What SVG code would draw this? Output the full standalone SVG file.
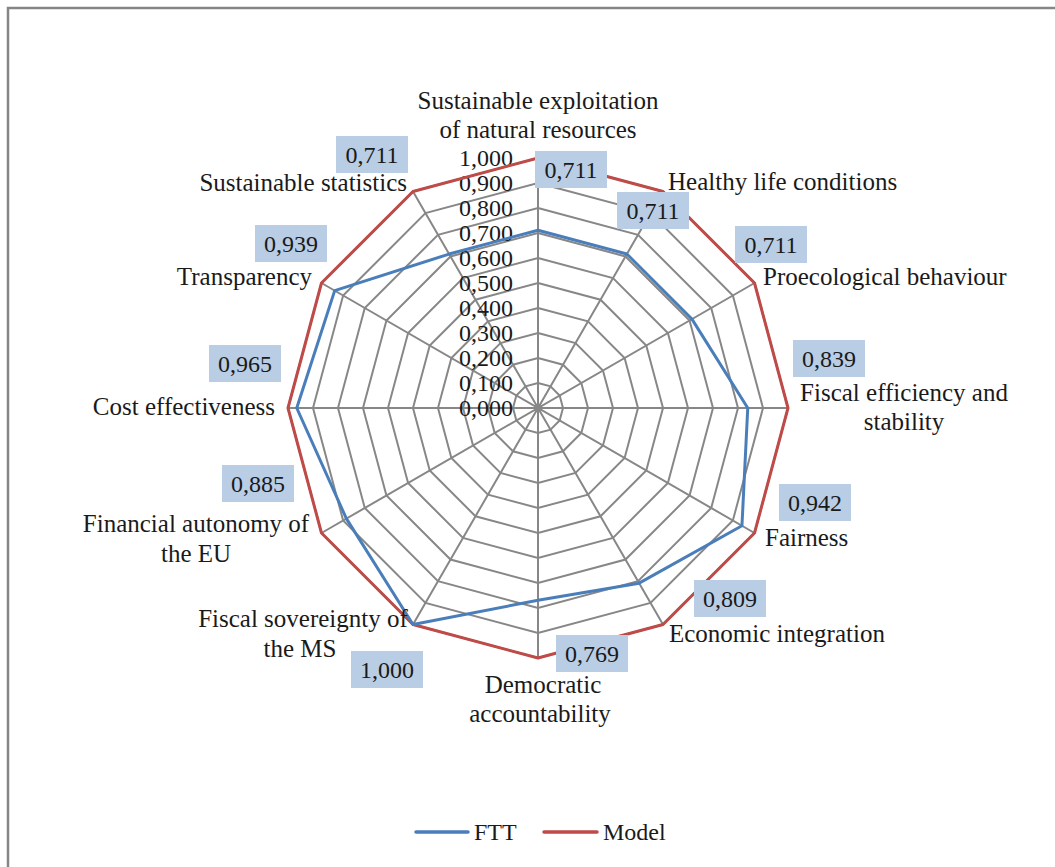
<svg xmlns="http://www.w3.org/2000/svg" width="1055" height="867" viewBox="0 0 1055 867">
<style>
text{font-family:"Liberation Serif","Times New Roman",serif;fill:#1a1a1a}
.cat{font-size:25px}
.num{font-size:24px}
.tick{font-size:24px;text-anchor:end}
.box{fill:#b9cde5}
.grid{fill:none;stroke:#878787;stroke-width:2}
.ftt{fill:none;stroke:#4a7ebb;stroke-width:3;stroke-linejoin:round}
.model{fill:none;stroke:#be4b48;stroke-width:3;stroke-linejoin:round}
</style>
<rect width="1055" height="867" fill="#fff"/>
<g id="frame"><path d="M8,867 V8 H1055" fill="none" stroke="#868686" stroke-width="2.5"/></g>
<g id="grid" transform="translate(538,408)">
<polygon class="grid" points="0,-25 12.5,-21.65 21.65,-12.5 25,0 21.65,12.5 12.5,21.65 0,25 -12.5,21.65 -21.65,12.5 -25,0 -21.65,-12.5 -12.5,-21.65"/>
<polygon class="grid" points="0,-50 25,-43.3 43.3,-25 50,0 43.3,25 25,43.3 0,50 -25,43.3 -43.3,25 -50,0 -43.3,-25 -25,-43.3"/>
<polygon class="grid" points="0,-75 37.5,-64.95 64.95,-37.5 75,0 64.95,37.5 37.5,64.95 0,75 -37.5,64.95 -64.95,37.5 -75,0 -64.95,-37.5 -37.5,-64.95"/>
<polygon class="grid" points="0,-100 50,-86.6 86.6,-50 100,0 86.6,50 50,86.6 0,100 -50,86.6 -86.6,50 -100,0 -86.6,-50 -50,-86.6"/>
<polygon class="grid" points="0,-125 62.5,-108.25 108.25,-62.5 125,0 108.25,62.5 62.5,108.25 0,125 -62.5,108.25 -108.25,62.5 -125,0 -108.25,-62.5 -62.5,-108.25"/>
<polygon class="grid" points="0,-150 75,-129.9 129.9,-75 150,0 129.9,75 75,129.9 0,150 -75,129.9 -129.9,75 -150,0 -129.9,-75 -75,-129.9"/>
<polygon class="grid" points="0,-175 87.5,-151.55 151.55,-87.5 175,0 151.55,87.5 87.5,151.55 0,175 -87.5,151.55 -151.55,87.5 -175,0 -151.55,-87.5 -87.5,-151.55"/>
<polygon class="grid" points="0,-200 100,-173.21 173.21,-100 200,0 173.21,100 100,173.21 0,200 -100,173.21 -173.21,100 -200,0 -173.21,-100 -100,-173.21"/>
<polygon class="grid" points="0,-225 112.5,-194.86 194.86,-112.5 225,0 194.86,112.5 112.5,194.86 0,225 -112.5,194.86 -194.86,112.5 -225,0 -194.86,-112.5 -112.5,-194.86"/>
<polygon class="grid" points="0,-250 125,-216.51 216.51,-125 250,0 216.51,125 125,216.51 0,250 -125,216.51 -216.51,125 -250,0 -216.51,-125 -125,-216.51"/>
<path class="grid" d="M0,-250 L0,250 M125,-216.51 L-125,216.51 M216.51,-125 L-216.51,125 M250,0 L-250,0 M216.51,125 L-216.51,-125 M125,216.51 L-125,-216.51"/>
</g>
<g id="ticks">
<text class="tick" x="513" y="416">0,000</text>
<text class="tick" x="513" y="391">0,100</text>
<text class="tick" x="513" y="366">0,200</text>
<text class="tick" x="513" y="341">0,300</text>
<text class="tick" x="513" y="316">0,400</text>
<text class="tick" x="513" y="291">0,500</text>
<text class="tick" x="513" y="266">0,600</text>
<text class="tick" x="513" y="241">0,700</text>
<text class="tick" x="513" y="216">0,800</text>
<text class="tick" x="513" y="191">0,900</text>
<text class="tick" x="513" y="166">1,000</text>
</g>
<g id="connectors" transform="translate(538,408)">
<polygon class="model" points="0,-250 125,-216.51 216.51,-125 250,0 216.51,125 125,216.51 0,250 -125,216.51 -216.51,125 -250,0 -216.51,-125 -125,-216.51"/>
<polygon class="ftt" points="0,-177.75 88.88,-153.94 153.94,-88.88 209.75,0 203.95,117.75 101.13,175.15 0,192.25 -125,216.51 -191.61,110.63 -241.25,0 -203.3,-117.38 -88.88,-153.94"/>
</g>
<g id="n0"><text class="cat" x="538" y="109" text-anchor="middle">Sustainable exploitation</text><text class="cat" x="538" y="138" text-anchor="middle">of natural resources</text><rect class="box" x="535" y="151" width="72" height="37"/><text class="num" x="571" y="178" text-anchor="middle">0,711</text></g>
<g id="n1"><text class="cat" x="668" y="190">Healthy life conditions</text><rect class="box" x="617" y="192" width="72" height="37"/><text class="num" x="653" y="219" text-anchor="middle">0,711</text></g>
<g id="n2"><rect class="box" x="735" y="226" width="72" height="37"/><text class="num" x="771" y="253" text-anchor="middle">0,711</text><text class="cat" x="763" y="285">Proecological behaviour</text></g>
<g id="n3"><rect class="box" x="793" y="340" width="72" height="37"/><text class="num" x="829" y="367" text-anchor="middle">0,839</text><text class="cat" x="904" y="401" text-anchor="middle">Fiscal efficiency and</text><text class="cat" x="904" y="430" text-anchor="middle">stability</text></g>
<g id="n4"><rect class="box" x="779" y="484" width="72" height="37"/><text class="num" x="815" y="511" text-anchor="middle">0,942</text><text class="cat" x="765" y="546">Fairness</text></g>
<g id="n5"><rect class="box" x="694" y="580" width="72" height="37"/><text class="num" x="730" y="607" text-anchor="middle">0,809</text><text class="cat" x="669" y="642">Economic integration</text></g>
<g id="n6"><rect class="box" x="556" y="635" width="72" height="37"/><text class="num" x="592" y="662" text-anchor="middle">0,769</text><text class="cat" x="543" y="693" text-anchor="middle">Democratic</text><text class="cat" x="540" y="722" text-anchor="middle">accountability</text></g>
<g id="n7"><text class="cat" x="303" y="627" text-anchor="middle">Fiscal sovereignty of</text><text class="cat" x="300" y="657" text-anchor="middle">the MS</text><rect class="box" x="351" y="651" width="72" height="37"/><text class="num" x="387" y="678" text-anchor="middle">1,000</text></g>
<g id="n8"><rect class="box" x="222" y="465" width="72" height="37"/><text class="num" x="258" y="492" text-anchor="middle">0,885</text><text class="cat" x="196" y="532" text-anchor="middle">Financial autonomy of</text><text class="cat" x="196" y="562" text-anchor="middle">the EU</text></g>
<g id="n9"><rect class="box" x="209" y="345" width="72" height="37"/><text class="num" x="245" y="372" text-anchor="middle">0,965</text><text class="cat" x="275" y="415" text-anchor="end">Cost effectiveness</text></g>
<g id="n10"><rect class="box" x="255" y="225" width="72" height="37"/><text class="num" x="291" y="252" text-anchor="middle">0,939</text><text class="cat" x="312" y="285" text-anchor="end">Transparency</text></g>
<g id="n11"><rect class="box" x="336" y="136" width="72" height="37"/><text class="num" x="372" y="163" text-anchor="middle">0,711</text><text class="cat" x="407" y="191" text-anchor="end">Sustainable statistics</text></g>
<g id="legend">
<line x1="416" y1="832" x2="468" y2="832" stroke="#4a7ebb" stroke-width="3.5" stroke-linecap="round"/>
<text class="num" x="474" y="840">FTT</text>
<line x1="544" y1="832" x2="597" y2="832" stroke="#be4b48" stroke-width="3.5" stroke-linecap="round"/>
<text class="num" x="603" y="840">Model</text>
</g>
</svg>
